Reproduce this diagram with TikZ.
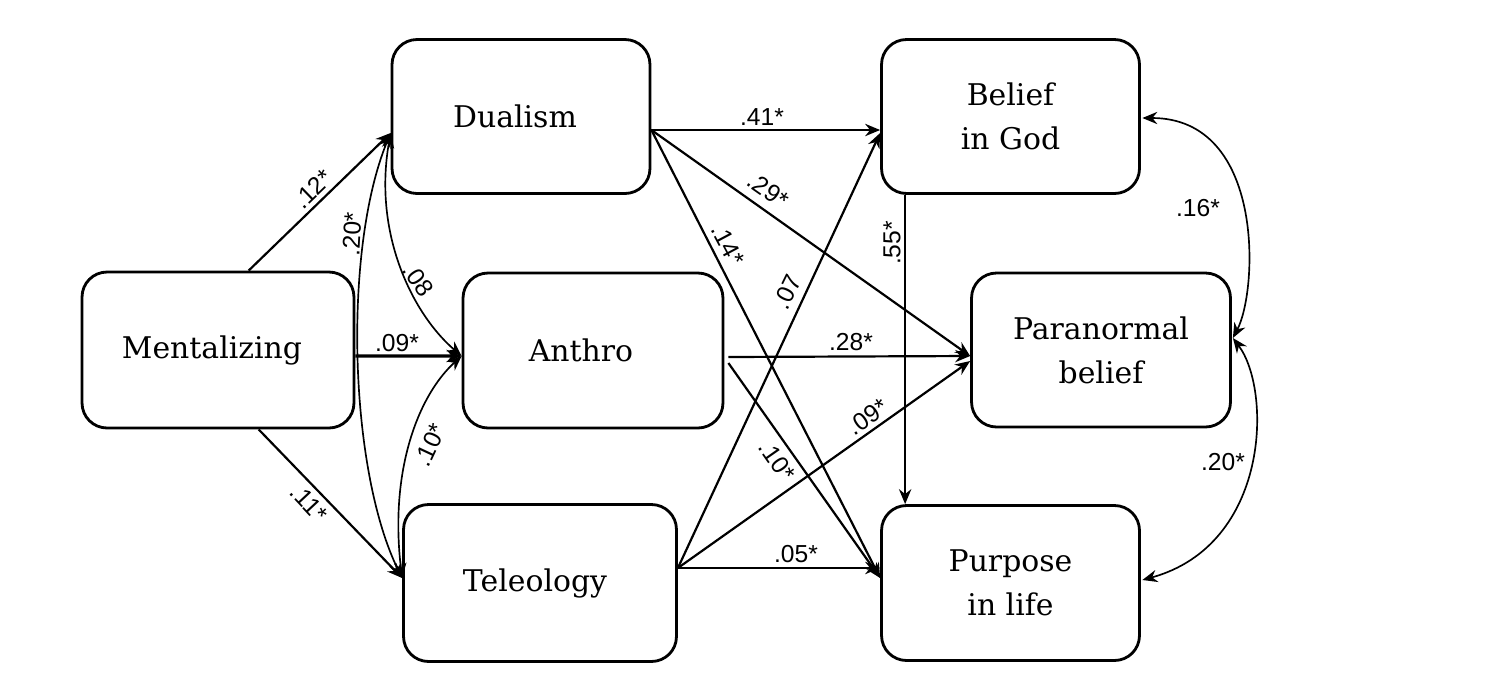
\documentclass[tikz,border=0pt]{standalone}
\usepackage{fontspec}
\setmainfont{DejaVu Serif}
\newfontfamily\labfont{Liberation Sans}
\usetikzlibrary{arrows.meta,calc}
\begin{document}
\begin{tikzpicture}[x=0.02cm,y=-0.02cm,
  box/.style={draw, line width=1.6pt, rounded corners=0.5cm, inner sep=0pt, align=center,
    font=\fontsize{17}{25}\selectfont},
  tip/.tip={Stealth[length=8.5pt,width=7pt,inset=2.8pt]},
  arr/.style={line width=1.25pt, -tip},
  corr/.style={line width=0.95pt, tip-tip},
  lab/.style={font=\labfont\fontsize{14}{14}\selectfont, inner sep=0pt}]
\useasboundingbox (0,0) rectangle (1486,680);
% boxes
\node[box, minimum width=5.44cm, minimum height=3.12cm] (ment) at (218,350) {Mentalizing\kern0.24cm};
\node[box, minimum width=5.16cm, minimum height=3.08cm] (dual) at (521,116.5) {Dualism\kern0.24cm};
\node[box, minimum width=5.2cm, minimum height=3.1cm] (anth) at (593,350.5) {Anthro\kern0.48cm};
\node[box, minimum width=5.46cm, minimum height=3.14cm] (tele) at (540,583) {Teleology\kern0.2cm};
\node[box, minimum width=5.16cm, minimum height=3.08cm] (god) at (1010.5,116.5) {Belief\\in God};
\node[box, minimum width=5.18cm, minimum height=3.08cm] (para) at (1101,350) {Paranormal\\belief};
\node[box, minimum width=5.16cm, minimum height=3.1cm] (purp) at (1010.5,583) {Purpose\\in life};
% anchor points
\coordinate (dualW) at ($(dual.west)+(0,16.5)$);
\coordinate (dualE) at ($(dual.east)+(0,13.5)$);
\coordinate (teleW) at ($(tele.west)+(0,-5)$);
\coordinate (teleE) at ($(tele.east)+(0,-15)$);
\coordinate (anthW) at ($(anth.west)+(0,5.5)$);
\coordinate (paraW) at ($(para.west)+(0,6)$);
\coordinate (paraE) at ($(para.east)+(1,-12)$);
\coordinate (purpW) at ($(purp.west)+(0,-5)$);
% left side
\draw[arr] ($(ment.north west)+(168,0)$) -- (dualW);
\draw[arr] ($(ment.south west)+(178,0)$) -- (teleW);
\draw[arr, line width=1.8pt] ($(ment.east)+(0,6)$) -- (anthW);
\draw[corr] (dualW) .. controls +(-48,117) and +(-53,-108) .. (teleW);
\draw[corr] (dualW) .. controls +(-18,102) and +(-48,-41) .. (anthW);
\draw[corr] (teleW) .. controls +(-13,-108) and +(-43,39) .. (anthW);
% right side
\draw[arr] (dualE) -- ($(god.west)+(0,13.5)$);
\draw[arr] (dualE) -- (paraW);
\draw[arr] (dualE) -- (purpW);
\draw[arr] (teleE) -- ($(god.west)+(0,16.5)$);
\draw[arr] (teleE) -- ($(para.west)+(0,11)$);
\draw[arr] (teleE) -- ($(purp.west)+(0,-15)$);
\draw[arr] ($(anth.east)+(4,6.5)$) -- (paraW);
\draw[arr] ($(anth.east)+(4,12.5)$) -- (purpW);
\draw[arr] ($(god.south west)+(25,0)$) -- ($(purp.north west)+(25,0)$);
\draw[corr] ($(god.east)+(1.5,1.5)$) .. controls (1265,118) and (1258,290) .. (paraE);
\draw[corr] (paraE) .. controls (1272,390) and (1270,545) .. ($(purp.east)+(1.5,-3)$);
% labels
\node[lab, rotate=44] (l12) at (313,189) {.12*};
\node[lab, rotate=-47] (l11) at (309,503) {.11*};
\node[lab] (l09a) at (397,343) {.09*};
\node[lab, rotate=87] (l20a) at (352,234) {.20*};
\node[lab, rotate=-55] (l08) at (418,280) {.08};
\node[lab, rotate=65] (l10a) at (430,445) {.10*};
\node[lab] (l41) at (762,117) {.41*};
\node[lab, rotate=-35] (l29) at (768,190) {.29*};
\node[lab, rotate=-62] (l14) at (728,245) {.14*};
\node[lab, rotate=64] (l07) at (787,292) {.07};
\node[lab, rotate=90] (l55) at (892,243) {.55*};
\node[lab] (l28) at (851,342) {.28*};
\node[lab, rotate=35] (l09b) at (868,417) {.09*};
\node[lab, rotate=-55] (l10b) at (777,461) {.10*};
\node[lab] (l05) at (796,554) {.05*};
\node[lab] (l16) at (1198,208) {.16*};
\node[lab] (l20b) at (1223,462) {.20*};
\end{tikzpicture}
\end{document}
